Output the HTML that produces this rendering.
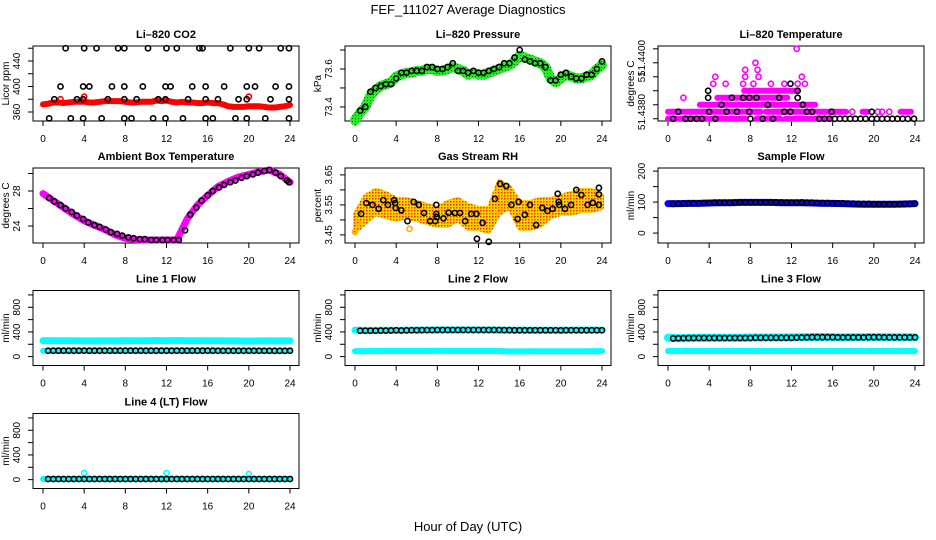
<!DOCTYPE html>
<html><head><meta charset="utf-8">
<style>
html,body{margin:0;padding:0;background:#fff;}
svg{display:block;font-family:"Liberation Sans",Arial,sans-serif;}
.tk{font-size:10px;fill:#000;}
.ttl{font-size:11px;font-weight:bold;fill:#000;}
</style></head>
<body>
<svg id="chart" width="936" height="540" viewBox="0 0 936 540" xmlns="http://www.w3.org/2000/svg">
<defs>
<pattern id="rhpat" width="3" height="3" patternUnits="userSpaceOnUse">
<rect width="3" height="3" fill="#ffd400"/><rect x="0" y="0" width="1.5" height="1.5" fill="#f03000"/>
</pattern>
<pattern id="prpat" width="3" height="3" patternUnits="userSpaceOnUse">
<rect width="3" height="3" fill="#22ee22"/><rect x="1" y="1" width="1" height="1" fill="#006600"/>
</pattern>
</defs>
<text x="468" y="14" text-anchor="middle" font-size="13">FEF_111027  Average Diagnostics</text>
<text x="468" y="531" text-anchor="middle" font-size="13">Hour of Day (UTC)</text>
</svg>
<script>
// ---------- data ----------
const xTicks=[0,4,8,12,16,20,24];
const halfHours=[0.5,1,1.5,2,2.5,3,3.5,4,4.5,5,5.5,6,6.5,7,7.5,8,8.5,9,9.5,10,10.5,11,11.5,12,12.5,13,13.5,14,14.5,15,15.5,16,16.5,17,17.5,18,18.5,19,19.5,20,20.5,21,21.5,22,22.5,23,23.5,24];
const bandHours=[0,0.5,1,1.5,2,2.5,3,3.5,4,4.5,5,5.5,6,6.5,7,7.5,8,8.5,9,9.5,10,10.5,11,11.5,12,12.5,13,13.5,14,14.5,15,15.5,16,16.5,17,17.5,18,18.5,19,19.5,20,20.5,21,21.5,22,22.5,23,23.5,24];
const hours=[0,1,2,3,4,5,6,7,8,9,10,11,12,13,14,15,16,17,18,19,20,21,22,23,24];

// CO2
const co2Band=[372,373,375,375,374,375,376,376,376,375,375,376,377,377,377,377,376,375,375,376,376,376,378,377,378,376,375,376,375,375,374,374,375,374,374,372,369,368,368,368,369,369,369,368,367,367,368,369,371];
const co2BlackHours=[2.2,4,5.2,7.3,7.9,10.2,12,13,15.2,15.5,18.2,20,21,23.1,23.9, 1.7,3.9,4.5,6.7,7.9,9.7,11.9,12.4,14.5,15.8,17.6,19.8,20.6,22.6,23.9, 1.1,3.3,3.9,6.3,7.9,9.1,11.2,11.9,14.1,15.8,17,19,19.8,22.1,23.9, 0.6,2.7,3.9,5.7,7.9,8.6,10.7,11.9,13.6,15.8,16.5,18.7,19.8,21.6,23.9];
const co2BlackVals=[460,460,460,460,460,460,460,460,460,460,460,460,460,460,460, 400,400,400,400,400,400,400,400,400,400,400,400,400,400,400, 380,380,380,380,380,380,380,380,380,380,380,380,380,380,380, 350,350,350,350,350,350,350,350,350,350,350,350,350,350,350];
const co2RedHours=[1.7,4,20];
const co2RedVals=[380,384,384];

// Pressure
const presBand=[73.33,73.37,73.40,73.46,73.49,73.51,73.52,73.53,73.56,73.57,73.58,73.58,73.59,73.59,73.60,73.60,73.59,73.59,73.60,73.61,73.60,73.59,73.57,73.58,73.57,73.57,73.58,73.59,73.60,73.61,73.62,73.64,73.67,73.66,73.65,73.64,73.63,73.61,73.55,73.53,73.55,73.57,73.56,73.55,73.55,73.56,73.57,73.60,73.62];
const presBlack=[73.38,73.40,73.48,73.50,73.51,73.52,73.52,73.55,73.58,73.58,73.59,73.59,73.59,73.61,73.61,73.60,73.60,73.61,73.63,73.59,73.59,73.58,73.59,73.58,73.58,73.59,73.60,73.61,73.63,73.63,73.66,73.70,73.65,73.64,73.63,73.63,73.61,73.54,73.54,73.57,73.58,73.56,73.55,73.55,73.57,73.57,73.60,73.64];

// Li-820 temperature (levels of 0.00025 above 51.4380)
const tSegStart=[0,8.6,11.4, 0,4.1,7.5,9.5,14.5,18.9,22.6, 3.1, 4.8, 7.4];
const tSegEnd  =[7.5,10.9,15.8, 3.8,7.2,9,14.2,17.3,19.4,23.6, 14.3, 11.6, 12.6];
const tSegLevel=[0,0,0, 1,1,1,1,1,1,1, 2, 3, 4];
const tPtHours=[17.9,20.4,20.8,21.5,12.6, 1.5,4.4,5.6,7.3,8.3,10,11.3,12.6,13.3, 4.6,7.5,8.8,13, 7.5,8.7, 8.5, 12.5];
const tPtLevel=[1,1,1,1,3, 3,5,5,5,5,5,5,5,5, 6,6,6,6, 7,7, 8, 10];
const tBlackHours=[0.5,1,1.7,2.2,2.8,3.3,3.9,3.9,4,4.6,5.2,5.7,6.2,6.7,7.3,7.9,7.9,8,8.6,9.2,9.7,10.2,10.8,11.3,11.9,11.9,12.6,12.6,13.1,13.5,14,14.7,15.2,15.7,15.9,16.2,16.7,17.2,17.7,18.2,18.7,19.2,19.8,19.8,20.3,20.8,21.3,21.8,22.3,22.8,23.3,23.9];
const tBlackLevel=[0,1,0,0,0,0,3,4,1,0,2,1,3,1,3,3,1,0,3,0,2,0,3,1,5,1,4,3,2,1,1,0,0,0,1,0,0,0,0,0,0,0,0,1,0,0,0,0,0,0,0,0];

// Ambient box temperature
const ambBand=[27.7,26.9,26.1,25.3,24.6,24.1,23.6,23.0,22.6,22.45,22.4,22.4,22.4,22.4,24.8,26.4,27.5,28.5,29.1,29.6,29.9,30.2,30.4,29.9,29.0];
const ambBlackHours=[0.6,1.1,1.7,2.2,2.8,3.3,3.9,4.4,5,5.5,6.1,6.6,7.2,7.7,8.3,8.8,9.4,9.9,10.5,11,11.6,12.1,12.7,13.2,13.8,14.3,14.9,15.4,16,16.5,17.1,17.6,18.2,18.7,19.3,19.8,20.4,20.9,21.5,22,22.6,23.1,23.7,23.9];
const ambBlackVals=[27.2,26.8,26.4,26.0,25.6,25.2,24.8,24.4,24.1,23.9,23.6,23.3,23.1,22.9,22.7,22.6,22.5,22.5,22.4,22.4,22.4,22.4,22.4,22.4,23.5,25.3,26.1,26.9,27.5,28.0,28.4,28.7,29.0,29.2,29.5,29.7,29.9,30.1,30.3,30.4,30.1,29.7,29.2,29.0];

// Gas stream RH
const rhUpper=[3.52,3.58,3.60,3.59,3.57,3.57,3.56,3.55,3.54,3.56,3.57,3.55,3.54,3.54,3.63,3.61,3.56,3.56,3.57,3.57,3.58,3.59,3.60,3.60,3.58];
const rhLower=[3.46,3.49,3.52,3.51,3.50,3.51,3.50,3.49,3.48,3.48,3.50,3.47,3.47,3.46,3.52,3.54,3.47,3.47,3.48,3.51,3.52,3.52,3.53,3.53,3.54];
const rhBlackHours=[0.6,1.1,1.7,2.3,2.75,3.2,3.8,3.9,3.95,4.5,5.1,5.7,6.2,6.7,7.3,7.8,7.9,7.9,7.95,8.6,9.1,9.7,10.2,10.7,11.3,11.8,11.85,12.4,13,13.6,14.1,14.7,15.2,15.8,15.9,16.5,17,17.6,18.2,18.7,19.2,19.7,19.8,19.85,20.4,21,21.5,22,22.6,23.1,23.7,23.7,23.7];
const rhBlackVals=[3.52,3.556,3.55,3.537,3.566,3.55,3.566,3.556,3.54,3.532,3.496,3.56,3.55,3.523,3.496,3.496,3.52,3.55,3.51,3.505,3.524,3.523,3.523,3.496,3.52,3.52,3.437,3.49,3.427,3.57,3.62,3.613,3.55,3.503,3.56,3.517,3.55,3.483,3.54,3.53,3.537,3.587,3.56,3.55,3.537,3.55,3.60,3.583,3.55,3.557,3.607,3.585,3.55];
const rhOutHours=[0,0.3,5.3,13.9];
const rhOutVals=[3.46,3.49,3.47,3.53];

// Sample flow
const sampleBand=[95,95,96,96,97,98,98,99,99,99,99,98,98,98,97,96,96,95,94,93,93,93,93,94,95];
const sampleBlack=[94,95,95,96,96,96,97,97,98,98,98,98,98,99,99,99,99,99,99,99,99,99,98,98,98,99,98,98,97,97,97,96,96,96,95,95,94,94,94,93,93,93,93,93,93,94,94,95];

// Line 1
const l1Upper=[260,258,258,258,255,255,256,256,258,258,258,262,258,262,258,258,258,258,256,256,252,256,256,256,258];
const l1Lower=[95,95,95,95,95,95,95,95,95,95,95,95,95,95,95,95,95,95,95,95,95,95,92,92,95];
const l1Black=[95,96,96,96,96,96,96,97,96,96,96,96,96,96,96,96,97,96,96,96,96,96,97,96,96,96,96,96,96,96,96,96,96,95,95,95,95,95,95,95,95,95,95,95,94,94,94,95];
// Line 2
const l2Upper=[430,425,425,428,425,430,430,432,432,432,432,432,432,432,430,428,428,428,428,428,428,430,430,430,430];
const l2Lower=[90,90,92,92,92,92,92,92,95,92,92,92,92,92,92,85,85,88,88,88,88,88,88,88,90];
const l2Black=[420,420,420,420,422,422,424,428,424,426,428,428,430,430,430,432,432,432,432,432,432,432,432,432,432,432,432,432,430,430,428,428,428,428,428,428,428,428,428,426,428,428,428,428,428,428,428,428];
// Line 3
const l3Upper=[305,300,300,305,305,305,305,305,310,310,310,310,312,315,318,318,315,312,315,315,315,315,315,315,312];
const l3Lower=[92,92,92,92,92,92,92,92,92,92,92,92,92,92,92,92,92,92,92,92,92,92,92,92,92];
const l3Black=[295,298,300,302,302,302,302,302,302,302,302,302,302,302,302,302,305,305,305,305,305,305,305,305,308,310,312,315,315,315,315,315,312,312,312,312,312,312,315,315,315,312,312,312,312,312,312,312];
// Line 4
const l4Band=[10,10,10,10,10,10,10,10,10,10,10,10,10,10,10,10,10,10,10,10,10,10,10,10,10];
const l4OutHours=[4,12,20];
const l4OutVals=[105,105,90];
const l4Black=[10,10,10,10,10,10,10,10,10,10,10,10,10,10,10,10,10,10,10,10,10,10,10,10,10,10,10,10,10,10,10,10,10,10,10,10,10,10,10,10,10,10,10,10,10,10,10,10];

// ---------- drawing ----------
const NS="http://www.w3.org/2000/svg";
const svg=document.getElementById('chart');
function mk(tag,attrs,parent){const e=document.createElementNS(NS,tag);for(const k in attrs)e.setAttribute(k,attrs[k]);(parent||svg).appendChild(e);return e;}

function makePanel(L,T,title,ylab,ylo,yhi,ticks,labels,name){
  const R=L+266,B=T+75;
  const g=mk('g',{});
  
  
  const sx=v=>L+10+v*(247/24);
  const sy=v=>B-(v-ylo)/(yhi-ylo)*75;
  const box=mk('rect',{x:L,y:T,width:R-L,height:75,fill:'none',stroke:'#000','stroke-width':1},g);
  
  
  const t=mk('text',{x:(L+R)/2,y:T-8,'text-anchor':'middle',class:'ttl'},g);t.textContent=title;
  
  
  // x axis
  const xa=mk('g',{},g);
  
  
  mk('line',{x1:sx(0),x2:sx(24),y1:B,y2:B,stroke:'#000'},xa);
  xTicks.forEach(v=>{mk('line',{x1:sx(v),x2:sx(v),y1:B,y2:B+5,stroke:'#000'},xa);
    const tx=mk('text',{x:sx(v),y:B+21,'text-anchor':'middle',class:'tk'},xa);tx.textContent=v;});
  // y axis
  const ya=mk('g',{},g);
  
  
  mk('line',{x1:L,x2:L,y1:sy(ticks[0]),y2:sy(ticks[ticks.length-1]),stroke:'#000'},ya);
  ticks.forEach(v=>mk('line',{x1:L,x2:L-5,y1:sy(v),y2:sy(v),stroke:'#000'},ya));
  labels.forEach(lb=>{const yy=lb.y!==undefined?lb.y:sy(lb.v);
    const tx=mk('text',{x:L-13,y:yy,'text-anchor':'middle',class:'tk',transform:`rotate(-90 ${L-13} ${yy})`},ya);
    tx.setAttribute('dy','0');tx.textContent=lb.t;});
  const yl=mk('text',{x:L-24,y:(T+B)/2,'text-anchor':'middle',class:'tk',transform:`rotate(-90 ${L-24} ${(T+B)/2})`},ya);
  yl.textContent=ylab;
  
  
  const clip=mk('g',{},g);
  return {g:clip,sx,sy};
}
function band(p,xs,ys,color,w,name){
  const pl=mk('polyline',{points:xs.map((x,i)=>p.sx(x)+','+p.sy(ys[i])).join(' '),fill:'none',stroke:color,'stroke-width':w,'stroke-linejoin':'round','stroke-linecap':'round'},p.g);
  
  
}
function pts(p,xs,ys,color,name,r){
  const g=mk('g',{},p.g);
  
  
  xs.forEach((x,i)=>mk('circle',{cx:p.sx(x),cy:p.sy(ys[i]),r:r||2.6,fill:'none',stroke:color,'stroke-width':1.6},g));
}

const C1=33,C2=345,C3=658,R1=46,R2=168,R3=290.5,R4=413.5;

// CO2
let p=makePanel(C1,R1,'Li–820 CO2','Licor ppm',345.9,463.5,[360,380,400,420,440,460],[{v:360,t:'360'},{v:400,t:'400'},{v:440,t:'440'}],'co2-panel');
band(p,bandHours,co2Band,'#ff0000',6,'co2-red-band');
pts(p,co2RedHours,co2RedVals,'#ff0000','co2-red-points');
pts(p,co2BlackHours,co2BlackVals,'#000','co2-black-points');

// Pressure
p=makePanel(C2,R1,'Li–820 Pressure','kPa',73.326,73.721,[73.4,73.5,73.6,73.7],[{v:73.4,t:'73.4'},{v:73.6,t:'73.6'}],'pressure-panel');
band(p,bandHours,presBand,'url(#prpat)',10,'pressure-green-band');
pts(p,halfHours,presBlack,'#000','pressure-black-points');

// Li-820 Temperature
const tBase=51.4380,tStep=0.00025;
p=makePanel(C3,R1,'Li–820 Temperature','degrees C',51.43792,51.44060,[51.4380,51.4385,51.4390,51.4395,51.4400,51.4405],[{v:51.4380,t:'51.4380',y:112},{v:51.4395,t:'51'},{v:51.4400,t:'51.4400',y:58}],'temperature-panel');
tSegStart.forEach((s,i)=>{
  const l=mk('line',{x1:p.sx(s),x2:p.sx(tSegEnd[i]),y1:p.sy(tBase+tSegLevel[i]*tStep),y2:p.sy(tBase+tSegLevel[i]*tStep),stroke:'#ff00ff','stroke-width':6,'stroke-linecap':'round'},p.g);
  
  
});
pts(p,tPtHours,tPtLevel.map(k=>tBase+k*tStep),'#ff00ff','temperature-magenta-points');
pts(p,tBlackHours,tBlackLevel.map(k=>tBase+k*tStep),'#000','temperature-black-points');

// Ambient
p=makePanel(C1,R2,'Ambient Box Temperature','degrees C',22.06,30.63,[24,26,28,30],[{v:24,t:'24'},{v:28,t:'28'}],'ambient-panel');
band(p,hours,ambBand,'#ff00ff',7,'ambient-magenta-band');
pts(p,ambBlackHours,ambBlackVals,'#000','ambient-black-points');

// RH
p=makePanel(C2,R2,'Gas Stream RH','percent',3.423,3.673,[3.45,3.50,3.55,3.60,3.65],[{v:3.45,t:'3.45'},{v:3.55,t:'3.55'},{v:3.65,t:'3.65'}],'rh-panel');
const poly=hours.map((h,i)=>p.sx(h)+','+p.sy(rhUpper[i])).concat(hours.slice().reverse().map((h,j)=>p.sx(h)+','+p.sy(rhLower[hours.length-1-j])));
const rp=mk('polygon',{points:poly.join(' '),fill:'url(#rhpat)',stroke:'url(#rhpat)','stroke-width':4,'stroke-linejoin':'round'},p.g);


pts(p,rhOutHours,rhOutVals,'#ffb000','rh-orange-points');
pts(p,rhBlackHours,rhBlackVals,'#000','rh-black-points');

// Sample flow
p=makePanel(C3,R2,'Sample Flow','ml/min',-32,210,[0,50,100,150,200],[{v:0,t:'0'},{v:100,t:'100'},{v:200,t:'200'}],'sample-flow-panel');
band(p,hours,sampleBand,'#0000ff',7,'sample-blue-band');
pts(p,halfHours,sampleBlack,'#000','sample-black-points');

const fT=[0,200,400,600,800,1000],fL=[{v:0,t:'0'},{v:400,t:'400'},{v:800,t:'800'}];
// Line 1
p=makePanel(C1,R3,'Line 1 Flow','ml/min',-144,1072,fT,fL,'line1-panel');
band(p,hours,l1Upper,'#00ffff',7,'line1-upper-band');
band(p,hours,l1Lower,'#00ffff',6,'line1-lower-band');
pts(p,halfHours,l1Black,'#000','line1-black-points');
// Line 2
p=makePanel(C2,R3,'Line 2 Flow','ml/min',-144,1072,fT,fL,'line2-panel');
band(p,hours,l2Upper,'#00ffff',7,'line2-upper-band');
band(p,hours,l2Lower,'#00ffff',6,'line2-lower-band');
pts(p,halfHours,l2Black,'#000','line2-black-points');
// Line 3
p=makePanel(C3,R3,'Line 3 Flow','ml/min',-144,1072,fT,fL,'line3-panel');
band(p,hours,l3Upper,'#00ffff',8,'line3-upper-band');
band(p,hours,l3Lower,'#00ffff',6,'line3-lower-band');
pts(p,halfHours,l3Black,'#000','line3-black-points');
// Line 4
p=makePanel(C1,R4,'Line 4 (LT) Flow','ml/min',-144,1072,fT,fL,'line4-panel');
band(p,hours,l4Band,'#00ffff',6,'line4-cyan-band');
pts(p,l4OutHours,l4OutVals,'#00ffff','line4-cyan-outliers');
pts(p,halfHours,l4Black,'#000','line4-black-points');
</script>
</body></html>
